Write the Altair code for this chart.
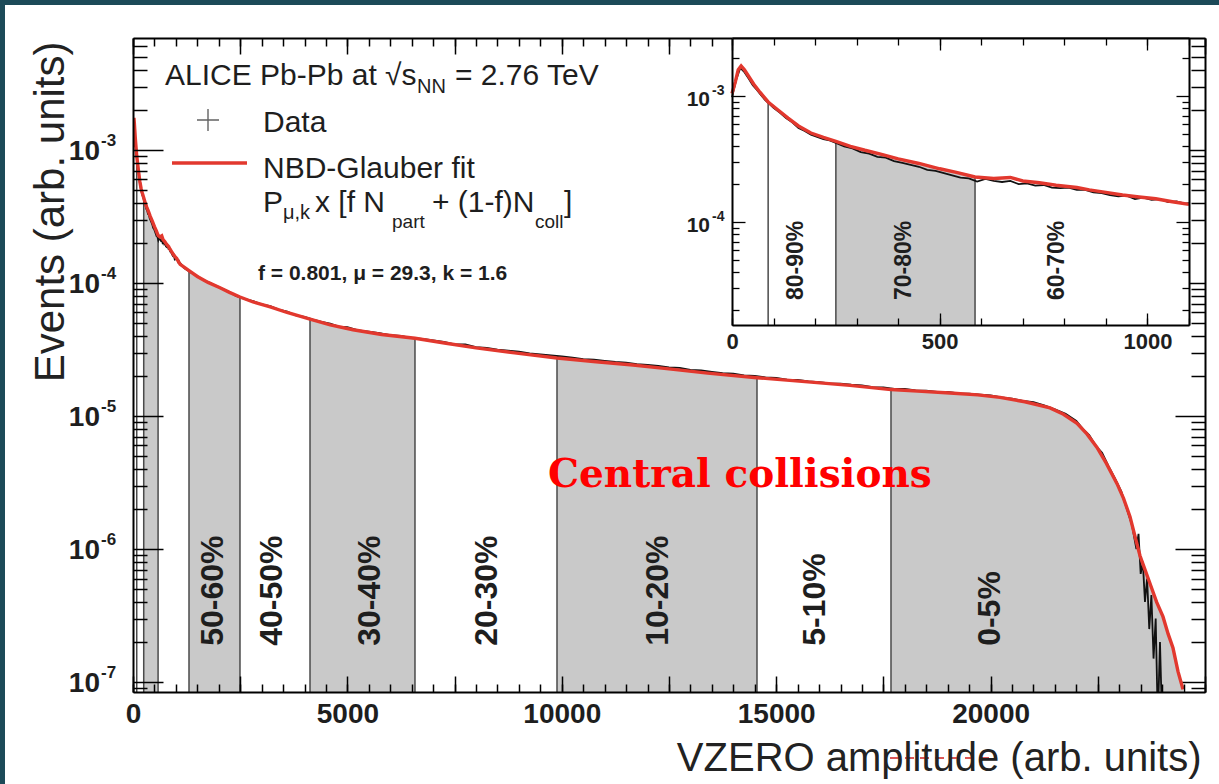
import altair as alt
import pandas as pd

# ---------------- layout of the drawing (pixels) ----------------
W, H = 1072, 654          # main plot area
INSET_X = [599, 1056]     # inset frame inside the plot area
INSET_Y = [287, 0]

# ---------------- values ----------------
fit_x = [0, 8, 15, 22, 30, 40, 52, 65, 87, 110, 135, 160, 190, 220, 250, 285, 320, 360, 400, 450,
         500, 540, 585, 630, 670, 700, 740, 780, 830, 860, 900, 940, 980, 1020, 1060, 1100, 1200,
         1306, 1500, 1750, 2029, 2250, 2495, 2800, 3200, 3591, 4128, 4600, 5131, 5800, 6576, 7300,
         8000, 8900, 9888, 10800, 11660, 12500, 13400, 14552, 15600, 16721, 17677, 18400, 19053,
         19700, 20219, 20800, 21385, 21700, 22015, 22250, 22481, 22700, 22948, 23100, 23251, 23380,
         23484, 23600, 23717, 23870, 24020, 24140, 24254, 24370, 24487]
fit_y = [1.05e-3, 1.30e-3, 1.62e-3, 1.74e-3, 1.62e-3, 1.44e-3, 1.25e-3, 1.10e-3, 9.0e-4, 7.8e-4,
         6.7e-4, 5.8e-4, 5.1e-4, 4.7e-4, 4.38e-4, 4.0e-4, 3.72e-4, 3.45e-4, 3.18e-4, 2.92e-4,
         2.65e-4, 2.48e-4, 2.28e-4, 2.22e-4, 2.26e-4, 2.12e-4, 2.05e-4, 1.96e-4, 1.88e-4, 1.80e-4,
         1.72e-4, 1.64e-4, 1.58e-4, 1.53e-4, 1.45e-4, 1.38e-4, 1.31e-4, 1.24e-4, 1.12e-4, 1.01e-4,
         9.2e-5, 8.5e-5, 7.85e-5, 7.2e-5, 6.6e-5, 6.0e-5, 5.35e-5, 4.85e-5, 4.45e-5, 4.1e-5,
         3.84e-5, 3.52e-5, 3.25e-5, 2.98e-5, 2.73e-5, 2.56e-5, 2.42e-5, 2.26e-5, 2.1e-5, 1.94e-5,
         1.82e-5, 1.70e-5, 1.58e-5, 1.53e-5, 1.49e-5, 1.44e-5, 1.38e-5, 1.28e-5, 1.15e-5, 1.03e-5,
         8.8e-6, 7.3e-6, 5.8e-6, 4.4e-6, 3.1e-6, 2.4e-6, 1.75e-6, 1.2e-6, 8.9e-7, 7.0e-7, 5.5e-7,
         4.0e-7, 3.1e-7, 2.3e-7, 1.8e-7, 1.2e-7, 8.8e-8]

data_x_low = [0, 10, 20, 30, 40, 50, 60, 70, 80, 90, 100, 115, 130, 145, 160, 175, 190, 205, 220,
              235, 250, 270, 290, 310, 330, 350, 370, 390, 410, 430, 450, 470, 490, 510, 530, 550,
              570, 590, 610, 630, 650, 670, 690, 710, 730, 750, 770, 790, 810, 830, 850, 870, 890,
              910, 930, 950, 970, 990, 1010, 1030, 1050, 1070, 1090, 1100]
data_y_low = [9.8e-4, 1.35e-3, 1.68e-3, 1.55e-3, 1.38e-3, 1.22e-3, 1.12e-3, 1.02e-3, 9.3e-4, 8.7e-4,
              8.1e-4, 7.4e-4, 6.7e-4, 6.2e-4, 5.6e-4, 5.3e-4, 4.95e-4, 4.75e-4, 4.55e-4, 4.45e-4,
              4.25e-4, 4.0e-4, 3.85e-4, 3.6e-4, 3.5e-4, 3.3e-4, 3.25e-4, 3.05e-4, 2.95e-4, 2.85e-4,
              2.75e-4, 2.6e-4, 2.55e-4, 2.45e-4, 2.35e-4, 2.25e-4, 2.22e-4, 2.1e-4, 2.2e-4, 2.12e-4,
              2.08e-4, 2.12e-4, 2.0e-4, 2.03e-4, 1.95e-4, 1.97e-4, 1.88e-4, 1.86e-4, 1.88e-4, 1.8e-4,
              1.8e-4, 1.72e-4, 1.7e-4, 1.64e-4, 1.6e-4, 1.62e-4, 1.52e-4, 1.56e-4, 1.5e-4, 1.52e-4,
              1.44e-4, 1.46e-4, 1.4e-4, 1.41e-4]
data_x_high = [1200, 1350, 1500, 1650, 1800, 2000, 2200, 2400, 2600, 2800, 3000, 3200, 3400, 3600,
               3800, 4000, 4200, 4400, 4600, 4800, 5000, 5250, 5500, 5750, 6000, 6250, 6500, 6750,
               7000, 7250, 7500, 7750, 8000, 8250, 8500, 8750, 9000, 9250, 9500, 9750, 10000, 10250,
               10500, 10750, 11000, 11250, 11500, 11750, 12000, 12250, 12500, 12750, 13000, 13250,
               13500, 13750, 14000, 14250, 14500, 14750, 15000, 15250, 15500, 15750, 16000, 16250,
               16500, 16750, 17000, 17250, 17500, 17750, 18000, 18250, 18500, 18750, 19000, 19250,
               19500, 19750, 20000, 20250, 20500, 20750, 21000, 21250, 21500, 21750, 22000, 22150,
               22300, 22450, 22600, 22750, 22900, 23050, 23200, 23300, 23400, 23450, 23500, 23550,
               23600, 23650, 23700, 23750, 23800, 23850, 23900, 23950, 24000]
data_y_high = [1.29e-4, 1.2e-4, 1.13e-4, 1.05e-4, 1.0e-4, 9.3e-5, 8.7e-5, 8.0e-5, 7.6e-5, 7.3e-5,
               6.9e-5, 6.7e-5, 6.3e-5, 6.1e-5, 5.7e-5, 5.55e-5, 5.3e-5, 5.1e-5, 4.95e-5, 4.7e-5,
               4.65e-5, 4.4e-5, 4.3e-5, 4.2e-5, 4.05e-5, 4.0e-5, 3.85e-5, 3.8e-5, 3.7e-5, 3.6e-5,
               3.45e-5, 3.45e-5, 3.3e-5, 3.25e-5, 3.15e-5, 3.1e-5, 3.05e-5, 2.95e-5, 2.9e-5, 2.85e-5,
               2.8e-5, 2.75e-5, 2.68e-5, 2.65e-5, 2.6e-5, 2.55e-5, 2.52e-5, 2.45e-5, 2.42e-5, 2.38e-5,
               2.32e-5, 2.3e-5, 2.22e-5, 2.2e-5, 2.15e-5, 2.1e-5, 2.08e-5, 2.02e-5, 2.0e-5, 1.95e-5,
               1.93e-5, 1.88e-5, 1.87e-5, 1.82e-5, 1.8e-5, 1.76e-5, 1.75e-5, 1.72e-5, 1.7e-5, 1.65e-5,
               1.64e-5, 1.6e-5, 1.6e-5, 1.56e-5, 1.55e-5, 1.52e-5, 1.52e-5, 1.48e-5, 1.47e-5, 1.45e-5,
               1.43e-5, 1.38e-5, 1.35e-5, 1.3e-5, 1.27e-5, 1.2e-5, 1.12e-5, 1.04e-5, 9.2e-6, 8.0e-6,
               7.2e-6, 6.0e-6, 5.3e-6, 4.2e-6, 3.4e-6, 2.7e-6, 1.9e-6, 1.5e-6, 1.0e-6, 1.3e-6, 6.5e-7,
               8.0e-7, 4.0e-7, 6.0e-7, 2.5e-7, 4.5e-7, 1.5e-7, 3.0e-7, 5e-8, 2.0e-7, 5e-8]

class_bounds = [87, 250, 585, 1306, 2495, 4128, 6576, 9888, 14552, 17677]
grey_bands = [(250, 585), (1306, 2495), (4128, 6576), (9888, 14552), (17677, 24487)]
main_labels = ["50-60%", "40-50%", "30-40%", "20-30%", "10-20%", "5-10%", "0-5%"]
main_label_x = [1866, 3242, 5527, 8256, 12244, 15905, 19986]
main_label_y = 1.87e-7
inset_labels = ["80-90%", "70-80%", "60-70%"]
inset_label_x = [153, 414, 783]
inset_label_y = 2.4e-5
inset_bounds = [87, 250, 585]
inset_grey = [(250, 585)]

main_x_dom = [0, 25000]
main_y_dom = [8.41e-8, 6.95e-3]
inset_x_dom = [0, 1100]
inset_y_dom = [1.52e-5, 2.9e-3]
main_x_labels = [0, 5000, 10000, 15000, 20000]
main_y_decades = [1e-7, 1e-6, 1e-5, 1e-4, 1e-3]
main_y_exps = ["-7", "-6", "-5", "-4", "-3"]
inset_x_labels = [0, 500, 1000]
inset_y_decades = [1e-4, 1e-3]
inset_y_exps = ["-4", "-3"]

assert len(fit_x) == len(fit_y)
assert len(data_x_low) == len(data_y_low) and len(data_x_high) == len(data_y_high)

# ---------------- tables ----------------
fit_df = pd.DataFrame({"x": fit_x, "y": fit_y})
dat_df = pd.DataFrame({"x": data_x_low + data_x_high, "y": data_y_low + data_y_high})
fit_at = dict(zip(fit_x, fit_y))


def band_table(bands):
    rows = []
    for i, (lo, hi) in enumerate(bands):
        for x, y in zip(fit_x, fit_y):
            if lo <= x <= hi:
                rows.append({"band": i, "x": x, "y": y})
    return pd.DataFrame(rows)


def minors(lo, hi, exps):
    out = []
    for e in exps:
        for k in range(2, 10):
            v = k * 10.0 ** e
            if lo <= v <= hi:
                out.append(v)
    return out


one = pd.DataFrame({"k": [0]})

xs_m = alt.Scale(domain=main_x_dom, nice=False, zero=False)
ys_m = alt.Scale(type="log", domain=main_y_dom, nice=False)
xs_i = alt.Scale(domain=inset_x_dom, nice=False, zero=False, range=INSET_X)
ys_i = alt.Scale(type="log", domain=inset_y_dom, nice=False, range=INSET_Y)

FONT = "Liberation Sans"
RED = "#e2382e"
GREY = "#c9c9c9"
INK = "#1e1e1e"


def tick_axis(orient, offset, values, size, domain, width=1.5, z=1):
    return alt.Axis(orient=orient, offset=offset, values=values, tickSize=size, ticks=True,
                    labels=False, domain=domain, grid=False, tickColor="black",
                    tickWidth=width, domainColor="black", domainWidth=2, zindex=z)


def tick_layer(xs, ys, x0, y0, xa, ya):
    df = pd.DataFrame({"x": [x0], "y": [y0]})
    return alt.Chart(df).mark_point(opacity=0).encode(
        x=alt.X("x:Q", scale=xs, axis=xa, title=None),
        y=alt.Y("y:Q", scale=ys, axis=ya, title=None))


def text_at(text, x, y, size, weight="normal", font=FONT, color=INK):
    return alt.Chart(one).mark_text(text=text, fontSize=size, fontWeight=weight, font=font,
                                    color=color, align="left", baseline="alphabetic").encode(
        x=alt.value(x), y=alt.value(y))


def plot_layers(xs, ys, bands, bounds, lab, lab_x, lab_y, lab_size, lab_weight, limit=None):
    fd, dd = fit_df, dat_df
    if limit is not None:
        fd = fd[fd.x <= limit]
        dd = dd[dd.x <= limit]
    ex = alt.X("x:Q", scale=xs, axis=None)
    ey = alt.Y("y:Q", scale=ys, axis=None)
    ymin = ys.domain[0]
    area = alt.Chart(band_table(bands)).mark_area(color=GREY, clip=True).encode(
        x=ex, y=ey, y2=alt.datum(ymin), detail="band:N")
    rules = alt.Chart(pd.DataFrame({"x": bounds, "top": [fit_at[b] for b in bounds]})).mark_rule(
        color="#4a4a4a", strokeWidth=1.5).encode(
        x=ex, y=alt.Y("top:Q", scale=ys, axis=None), y2=alt.datum(ymin))
    black = alt.Chart(dd).mark_line(color="#111111", strokeWidth=1.8, clip=True).encode(x=ex, y=ey)
    red = alt.Chart(fd).mark_line(color=RED, strokeWidth=3.4, clip=True).encode(x=ex, y=ey)
    labels = alt.Chart(pd.DataFrame({"t": lab, "x": lab_x, "y": [lab_y] * len(lab)})).mark_text(
        angle=270, align="left", baseline="middle", fontSize=lab_size, fontWeight=lab_weight,
        font=FONT, color=INK).encode(x=ex, y=ey, text="t:N")
    return [area, rules, black, red, labels]


def decade_labels(xs, ys, decades, exps, size, esize, dx, edx, dy, edy):
    df = pd.DataFrame({"x": [xs.domain[0]] * len(decades), "y": decades, "e": exps})
    ex = alt.X("x:Q", scale=xs, axis=None)
    ey = alt.Y("y:Q", scale=ys, axis=None)
    base = alt.Chart(df).mark_text(text="10", align="right", baseline="middle", fontSize=size,
                                   fontWeight="bold", font=FONT, color=INK, dx=dx, dy=dy).encode(x=ex, y=ey)
    sup = alt.Chart(df).mark_text(align="left", baseline="middle", fontSize=esize,
                                  fontWeight="bold", font=FONT, color=INK, dx=edx, dy=edy).encode(
        x=ex, y=ey, text="e:N")
    return [base, sup]


# ---------------- main panel ----------------
mx_major = list(range(0, 25001, 2500))
mx_minor = list(range(0, 25001, 500))
my_major = main_y_decades
my_minor = minors(main_y_dom[0], main_y_dom[1], range(-8, -1))

main_layers = []
# thin teal border of the slide (top and left)
main_layers.append(alt.Chart(one).mark_rect(color="#1c4a58").encode(
    x=alt.value(-133), x2=alt.value(1086), y=alt.value(-38), y2=alt.value(-33)))
main_layers.append(alt.Chart(one).mark_rect(color="#1c4a58").encode(
    x=alt.value(-133), x2=alt.value(-128), y=alt.value(-38), y2=alt.value(746)))

main_layers += plot_layers(xs_m, ys_m, grey_bands, class_bounds, main_labels, main_label_x,
                           main_label_y, 32, "bold")
main_layers += decade_labels(xs_m, ys_m, main_y_decades, main_y_exps, 28, 17, -33, -32, 2, -9)

# legend / annotations
main_layers += [
    text_at("ALICE Pb-Pb at \u221as", 32, 47, 30),
    text_at("NN", 284, 55, 20),
    text_at("= 2.76 TeV", 322, 47, 30),
    alt.Chart(one).mark_point(shape="M-1,0L1,0M0,-1L0,1", size=484, filled=False,
                              color="#222222", strokeWidth=1.4).encode(
        x=alt.value(75), y=alt.value(82)),
    text_at("Data", 130, 94, 30),
    alt.Chart(one).mark_rule(color=RED, strokeWidth=3.5).encode(
        x=alt.value(39), x2=alt.value(114), y=alt.value(125)),
    text_at("NBD-Glauber fit", 130, 140, 30),
    text_at("P", 130, 174, 30),
    text_at("\u03bc,k", 150, 181, 20),
    text_at("x [f N", 182, 174, 30),
    text_at("part", 259, 190, 19),
    text_at("+ (1-f)N", 299, 174, 30),
    text_at("coll", 402, 190, 19),
    text_at("]", 431, 174, 30),
    text_at("f = 0.801, \u03bc = 29.3, k = 1.6", 125, 242, 21, weight="bold"),
    text_at("Central collisions", 415, 449, 39, weight="bold", font="DejaVu Serif", color="#ff0000"),
    alt.Chart(one).mark_rule(color="#d02020", strokeWidth=1.6, strokeDash=[9, 6]).encode(
        x=alt.value(757), x2=alt.value(857), y=alt.value(720)),
]

# labelled axes (frame bottom / left + titles)
main_layers.append(alt.Chart(pd.DataFrame({"x": [1000], "y": [1e-5]})).mark_point(opacity=0).encode(
    x=alt.X("x:Q", scale=xs_m, axis=alt.Axis(
        orient="bottom", values=main_x_labels, format="d", ticks=False, tickSize=0,
        labels=True, labelFont=FONT, labelFontSize=28, labelFontWeight="bold", labelColor=INK,
        labelPadding=8, labelFlush=False, labelOverlap=False, domain=True, domainColor="black",
        domainWidth=2, grid=False, zindex=1,
        title="VZERO amplitude (arb. units)", titleFont=FONT, titleFontSize=40,
        titleFontWeight="normal", titleColor="#222222", titleX=1068, titleY=78,
        titleAlign="right", titleBaseline="alphabetic", titleAngle=0)),
    y=alt.Y("y:Q", scale=ys_m, axis=alt.Axis(
        orient="left", ticks=False, tickSize=0, labels=False, domain=True, domainColor="black",
        domainWidth=2, grid=False, zindex=1,
        title="Events (arb. units)", titleFont=FONT, titleFontSize=42, titleFontWeight="normal",
        titleColor="#222222", titleX=-70, titleY=3, titleAngle=270, titleAlign="right",
        titleBaseline="alphabetic"))))

# inward ticks on the four sides
main_layers += [
    tick_layer(xs_m, ys_m, 1000, 1e-5,
               tick_axis("top", -H, mx_major, 16, False), tick_axis("right", -W, my_major, 30, False)),
    tick_layer(xs_m, ys_m, 1000, 1e-5,
               tick_axis("top", -H, mx_minor, 8, False), tick_axis("right", -W, my_minor, 14, False)),
    tick_layer(xs_m, ys_m, 1000, 1e-5,
               tick_axis("bottom", -H, mx_major, 16, True, z=0),
               tick_axis("left", -W, my_major, 30, True, z=0)),
    tick_layer(xs_m, ys_m, 1000, 1e-5,
               tick_axis("bottom", -H, mx_minor, 8, False, z=0),
               tick_axis("left", -W, my_minor, 14, False, z=0)),
]

main = alt.layer(*main_layers).resolve_axis(x="independent", y="independent")

# ---------------- inset ----------------
ix_major = inset_x_labels
ix_minor = list(range(0, 1101, 100))
iy_major = inset_y_decades
iy_minor = minors(inset_y_dom[0], inset_y_dom[1], range(-6, -1))

inset_layers = []
inset_layers.append(alt.Chart(pd.DataFrame({"x0": [inset_x_dom[0]], "x1": [inset_x_dom[1]],
                                            "y0": [inset_y_dom[0]], "y1": [inset_y_dom[1]]}))
                    .mark_rect(color="white").encode(
    x=alt.X("x0:Q", scale=xs_i, axis=None), x2="x1",
    y=alt.Y("y0:Q", scale=ys_i, axis=None), y2="y1"))
inset_layers += plot_layers(xs_i, ys_i, inset_grey, inset_bounds, inset_labels, inset_label_x,
                            inset_label_y, 23, "bold", limit=inset_x_dom[1])
inset_layers += decade_labels(xs_i, ys_i, inset_y_decades, inset_y_exps, 21, 14, -22, -20, 4, -5)

off_left = -(W - INSET_X[0])
off_right = -INSET_X[1]
off_bottom_in = -INSET_Y[0]
off_top_in = -H
inset_layers += [
    tick_layer(xs_i, ys_i, 500, 1e-4,
               tick_axis("top", off_bottom_in, ix_major, 12, True, width=1.3),
               tick_axis("right", off_left, iy_major, 13, True, width=1.3)),
    tick_layer(xs_i, ys_i, 500, 1e-4,
               tick_axis("top", off_bottom_in, ix_minor, 7, False, width=1.3),
               tick_axis("right", off_left, iy_minor, 7, False, width=1.3)),
    tick_layer(xs_i, ys_i, 500, 1e-4,
               tick_axis("bottom", off_top_in, ix_major, 12, True, width=1.3),
               tick_axis("left", off_right, iy_major, 13, True, width=1.3)),
    tick_layer(xs_i, ys_i, 500, 1e-4,
               tick_axis("bottom", off_top_in, ix_minor, 7, False, width=1.3),
               tick_axis("left", off_right, iy_minor, 7, False, width=1.3)),
    alt.Chart(pd.DataFrame({"x": [500], "y": [1e-4]})).mark_point(opacity=0).encode(
        x=alt.X("x:Q", scale=xs_i, title=None, axis=alt.Axis(
            orient="bottom", offset=-(H - INSET_Y[0]), values=inset_x_labels, format="d",
            ticks=False, tickSize=0, labels=True, labelFont=FONT, labelFontSize=22,
            labelFontWeight="bold", labelColor=INK, labelPadding=6, labelFlush=False,
            labelOverlap=False, domain=False, grid=False, zindex=1)),
        y=alt.Y("y:Q", scale=ys_i, axis=None)),
]

inset = alt.layer(*inset_layers).resolve_axis(x="independent", y="independent")

chart = alt.layer(main, inset).resolve_scale(
    x="independent", y="independent"
).resolve_axis(
    x="independent", y="independent"
).properties(
    width=W, height=H,
    autosize=alt.AutoSizeParams(type="none"),
    padding={"left": 133, "top": 38, "right": 14, "bottom": 92},
    background="white",
).configure_view(stroke=None)

chart.save("out.html", embed_options={"renderer": "svg", "actions": False})
